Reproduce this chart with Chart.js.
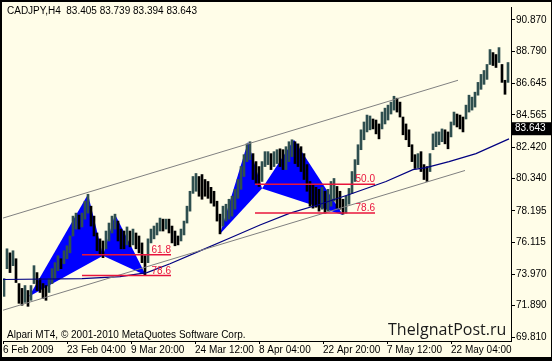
<!DOCTYPE html>
<html>
<head>
<meta charset="utf-8">
<script src="https://cdn.jsdelivr.net/npm/chart.js@4.4.1/dist/chart.umd.min.js"></script>
<style>
  html, body { margin: 0; padding: 0; background: #fffde8; }
  canvas { display: block; }
</style>
</head>
<body>
<canvas id="chart" width="552" height="361"></canvas>
<script>
// CADJPY H4 - one element every 3 H4 bars (x is the H4 bar number)
const highs = [
  73.69, 75.67, 75.40, 75.54, 75.01, 73.36, 73.04, 73.23, 72.90, 73.23,
  74.55, 74.09, 73.69, 73.36, 73.23, 73.69, 74.35, 74.75, 75.21, 75.01,
  75.54, 75.87, 76.52, 77.84, 78.04, 77.91, 78.04, 78.83, 79.29, 78.50,
  77.84, 76.72, 76.33, 76.19, 76.85, 77.38, 77.84, 77.97, 77.51, 76.98,
  76.85, 77.12, 76.85, 76.98, 76.72, 76.52, 76.06, 75.21, 76.33, 76.98,
  77.18, 77.38, 77.71, 77.64, 77.64, 77.64, 77.18, 76.85, 76.52, 76.98,
  77.51, 78.50, 79.49, 80.47, 80.67, 80.47, 80.60, 80.27, 80.14, 79.75,
  79.49, 78.83, 77.97, 78.50, 78.63, 78.96, 79.16, 79.62, 80.27, 81.13,
  81.92, 82.64, 82.78, 81.99, 81.46, 81.13, 81.46, 82.12, 82.12, 81.99,
  82.12, 82.25, 82.31, 82.25, 82.45, 82.78, 82.91, 82.78, 82.64, 82.45,
  81.99, 81.26, 80.14, 79.95, 79.75, 79.62, 79.75, 79.49, 79.62, 80.14,
  80.34, 79.81, 79.49, 78.96, 79.16, 79.68, 80.80, 81.59, 82.58, 83.57,
  84.09, 84.55, 84.49, 84.29, 84.22, 83.96, 84.75, 85.01, 85.21, 85.41,
  85.80, 85.67, 85.41, 84.42, 83.96, 83.57, 82.58, 81.92, 81.99, 82.12,
  81.26, 81.13, 81.99, 83.30, 83.43, 83.43, 83.63, 83.57, 83.43, 84.09,
  84.75, 84.62, 84.55, 84.42, 85.21, 85.87, 85.74, 86.07, 86.72, 87.25,
  87.51, 87.91, 88.90, 88.70, 88.57, 89.03, 87.91, 86.86, 88.04
];
const lows = [
  72.51, 74.35, 74.09, 74.55, 73.43, 72.05, 71.92, 72.11, 71.85, 72.25,
  73.36, 72.90, 72.77, 72.38, 72.25, 72.77, 73.36, 73.69, 74.22, 74.35,
  74.68, 75.01, 75.40, 76.52, 76.98, 76.98, 77.12, 77.64, 78.04, 77.18,
  76.52, 75.54, 75.27, 75.08, 75.67, 76.19, 76.72, 76.98, 76.19, 75.67,
  75.67, 75.93, 75.80, 75.93, 75.67, 75.40, 74.75, 73.89, 74.75, 76.06,
  76.33, 76.59, 76.85, 76.85, 76.98, 76.72, 76.06, 75.87, 75.93, 76.19,
  76.59, 77.38, 78.17, 79.35, 79.49, 79.16, 78.96, 79.16, 79.02, 78.70,
  78.50, 77.51, 76.66, 77.18, 77.51, 77.64, 77.84, 78.30, 79.02, 79.62,
  80.47, 81.46, 81.59, 80.27, 80.01, 79.81, 80.14, 81.13, 81.26, 80.93,
  81.13, 81.33, 81.13, 80.93, 80.93, 81.46, 81.79, 81.33, 81.13, 80.80,
  80.27, 79.49, 78.50, 78.37, 78.43, 78.17, 78.30, 78.04, 78.17, 78.50,
  78.83, 78.37, 78.30, 77.97, 78.04, 78.63, 79.35, 80.14, 81.26, 82.25,
  82.91, 83.43, 83.57, 83.63, 83.30, 82.97, 83.63, 83.96, 84.22, 84.62,
  84.88, 84.75, 84.42, 83.24, 82.91, 82.45, 81.46, 81.00, 81.06, 80.80,
  80.27, 80.14, 80.80, 82.25, 82.45, 82.58, 82.78, 82.64, 82.31, 83.10,
  83.89, 83.76, 83.63, 83.43, 84.29, 84.75, 84.88, 85.08, 85.87, 86.26,
  86.59, 86.92, 87.91, 87.84, 87.71, 88.04, 86.72, 85.93, 86.72
];
const barStep = 3;

// moving average
const maX = [0, 79, 117, 144, 167, 197, 227, 257, 287, 317, 347, 383, 410, 423, 446, 473, 506];
const maY = [73.63, 73.69, 73.82, 74.09, 74.68, 75.53, 76.39, 77.25, 78.04, 78.63, 79.29, 80.14, 80.93, 81.06, 81.46, 81.99, 82.97];

// channel
const upperX = [0, 455];
const upperY = [77.71, 86.86];
const lowerX = [0, 462];
const lowerY = [71.59, 80.87];

// harmonic patterns X A B C D
const harm1X = [26, 85, 100, 112, 143];
const harm1Y = [72.51, 79.29, 75.21, 77.97, 73.89];
const harm2X = [217, 245, 259, 291, 340];
const harm2Y = [76.66, 82.78, 79.68, 82.91, 77.91];

// fibo levels
const fibNames = ['61.8', '78.6', '50.0', '78.6'];
const fibValues = [75.27, 73.89, 79.95, 78.04];
const fibStart = [79, 79, 252, 252];
const fibEnd = [168, 168, 372, 372];

const yTicks = [90.870, 88.790, 86.645, 84.565, 82.420, 80.340, 78.195, 76.115, 73.970, 71.890, 69.810];
const xTickPos = [0, 64, 128, 192, 256, 320, 384, 448];
const xTickLabels = ['6 Feb 2009', '23 Feb 04:00', '9 Mar 20:00', '24 Mar 12:00', '8 Apr 04:00', '22 Apr 20:00', '7 May 12:00', '22 May 04:00'];
const lastPrice = 83.643;
const header = 'CADJPY,H4  83.405 83.739 83.394 83.643';

const BG = '#fffde8';
const FONT = '"Liberation Sans", Arial, sans-serif';

const line = (xs, ys, color, width, order) => ({
  type: 'line',
  data: xs.map((x, i) => ({ x: x, y: ys[i] })),
  borderColor: color,
  borderWidth: width,
  pointRadius: 0,
  tension: 0,
  order: order
});

const datasets = [
  {
    type: 'bar',
    data: highs.map((h, i) => ({ x: i * barStep + 1, y: [lows[i], h] })),
    backgroundColor: highs.map((h, i) => (i && h + lows[i] < highs[i - 1] + lows[i - 1]) ? '#000000' : '#2f4f4f'),
    barThickness: 2,
    grouped: false,
    borderWidth: 0,
    order: 10
  },
  line(maX, maY, '#000080', 1.2, 4),
  line(upperX, upperY, '#808080', 1, 3),
  line(lowerX, lowerY, '#808080', 1, 3)
];
fibValues.forEach((v, i) => {
  datasets.push(line([fibStart[i], fibEnd[i]], [v, v], '#e8143c', 1.5, 1));
});

const mt4Plugin = {
  id: 'mt4',
  beforeDraw(chart) {
    const ctx = chart.ctx;
    ctx.save();
    ctx.fillStyle = BG;
    ctx.fillRect(0, 0, chart.width, chart.height);
    ctx.restore();
  },
  beforeDatasetsDraw(chart) {
    const { ctx, chartArea: a, scales: { x, y } } = chart;
    ctx.save();
    ctx.beginPath();
    ctx.rect(a.left, a.top, a.right - a.left, a.bottom - a.top);
    ctx.clip();
    ctx.fillStyle = '#0000ff';
    [[harm1X, harm1Y], [harm2X, harm2Y]].forEach(([hx, hy]) => {
      [[0, 1, 2], [2, 3, 4]].forEach(tri => {
        ctx.beginPath();
        tri.forEach((k, j) => {
          const px = x.getPixelForValue(hx[k]);
          const py = y.getPixelForValue(hy[k]);
          if (j) ctx.lineTo(px, py); else ctx.moveTo(px, py);
        });
        ctx.closePath();
        ctx.fill();
      });
    });
    ctx.restore();
  },
  afterDraw(chart) {
    const { ctx, scales: { x, y } } = chart;
    const W = chart.width, H = chart.height;
    ctx.save();
    // fibo labels
    ctx.font = '10px ' + FONT;
    ctx.fillStyle = '#e8143c';
    ctx.textAlign = 'right';
    ctx.textBaseline = 'alphabetic';
    fibNames.forEach((n, i) => {
      ctx.fillText(n, x.getPixelForValue(fibEnd[i]), y.getPixelForValue(fibValues[i]) - 2);
    });
    // texts
    ctx.fillStyle = '#000';
    ctx.textAlign = 'left';
    ctx.textBaseline = 'middle';
    ctx.fillText(header, 7, 11);
    ctx.fillText('Alpari MT4, \u00a9 2001-2010 MetaQuotes Software Corp.', 7, 335.5);
    ctx.font = '16px "Open Sans", sans-serif';
    ctx.fillStyle = '#1a1a1a';
    ctx.textBaseline = 'alphabetic';
    ctx.fillText('TheIgnatPost.ru', 388, 335);
    // last price box
    const py = y.getPixelForValue(lastPrice);
    ctx.fillStyle = '#000';
    ctx.fillRect(511, py - 6.5, 41, 13);
    ctx.fillStyle = '#fff';
    ctx.font = '10px ' + FONT;
    ctx.textBaseline = 'middle';
    ctx.fillText(lastPrice.toFixed(3), 515, py);
    // frame
    ctx.fillStyle = '#000';
    ctx.fillRect(0, 0, W, 2);
    ctx.fillRect(0, 0, 2, H);
    ctx.fillRect(0, H - 4, W, 4);
    ctx.fillRect(W - 1, 0, 1, H);
    ctx.restore();
  }
};

new Chart(document.getElementById('chart'), {
  type: 'bar',
  data: { datasets: datasets },
  plugins: [mt4Plugin],
  options: {
    responsive: false,
    animation: false,
    layout: { padding: { left: 3, top: 4, right: 0, bottom: 0 } },
    font: { family: FONT, size: 10 },
    plugins: { legend: { display: false }, tooltip: { enabled: false } },
    scales: {
      x: {
        type: 'linear',
        min: 0,
        max: 508,
        offset: false,
        afterBuildTicks: s => { s.ticks = xTickPos.map(v => ({ value: v })); },
        afterFit: s => { s.height = 20; },
        grid: { display: true, drawOnChartArea: false, drawTicks: true, tickLength: 3, color: '#000', offset: false },
        border: { display: true, color: '#000' },
        ticks: {
          autoSkip: false,
          maxRotation: 0,
          align: 'start',
          padding: 0,
          color: '#000',
          font: { family: FONT, size: 10 },
          callback: (v, i) => xTickLabels[i]
        }
      },
      y: {
        type: 'linear',
        position: 'right',
        min: 69.547,
        max: 91.726,
        afterBuildTicks: s => { s.ticks = yTicks.map(v => ({ value: v })); },
        afterFit: s => { s.width = 41; },
        grid: { display: true, drawOnChartArea: false, drawTicks: true, tickLength: 4, color: '#000' },
        border: { display: true, color: '#000' },
        ticks: {
          padding: 1,
          color: '#000',
          font: { family: FONT, size: 10 },
          callback: v => v.toFixed(3)
        }
      }
    }
  }
});
</script>
</body>
</html>
